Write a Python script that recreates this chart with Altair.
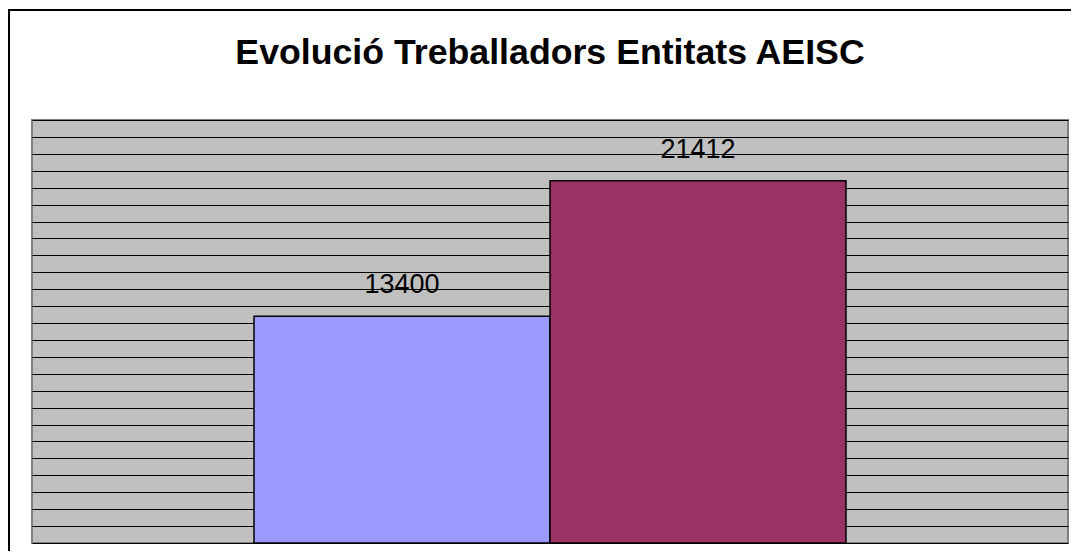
import altair as alt
import pandas as pd

periods = ["Període 1", "Període 2"]
workers = [13400, 21412]
bar_colors = ["#9999FF", "#993366"]

df = pd.DataFrame({"periode": periods, "treballadors": workers})

W, H = 1036, 423

x = alt.X("periode:N", sort=periods, axis=None,
          scale=alt.Scale(paddingInner=0, paddingOuter=0.75))
y = alt.Y("treballadors:Q",
          scale=alt.Scale(domain=[0, 25000], nice=False),
          axis=alt.Axis(values=list(range(0, 25001, 1000)), labels=False, ticks=False,
                        domain=False, title=None, grid=True, gridColor="#000000",
                        gridOpacity=1, gridWidth=1))

bars = alt.Chart(df).mark_bar(stroke="#000000", strokeWidth=1.5).encode(
    x=x, y=y,
    color=alt.Color("periode:N", sort=periods,
                    scale=alt.Scale(domain=periods, range=bar_colors), legend=None),
)

labels = alt.Chart(df).mark_text(
    font="Liberation Sans", fontSize=27, color="#000000", dy=-23, baseline="alphabetic"
).encode(x=x, y=y, text=alt.Text("treballadors:Q", format="d"))

frame = alt.Chart(df).mark_rect(fill=None, stroke="#000000", strokeWidth=2).encode(
    x=alt.value(-23), x2=alt.value(W + 60), y=alt.value(-110), y2=alt.value(H + 60)
)

chart = alt.layer(bars, labels, frame).properties(
    width=W, height=H,
    title=alt.Title("Evolució Treballadors Entitats AEISC", font="Liberation Sans",
                    fontSize=35.7, fontWeight="bold", color="#000000", anchor="middle",
                    frame="group", offset=-63),
    autosize=alt.AutoSizeParams(type="none"),
    padding={"left": 24, "top": 112, "right": 3, "bottom": 8},
    background="#FFFFFF",
).configure_view(
    fill="#C0C0C0", stroke="#808080", strokeWidth=2
)

chart.save("out.html", embed_options={"renderer": "svg", "actions": False})
